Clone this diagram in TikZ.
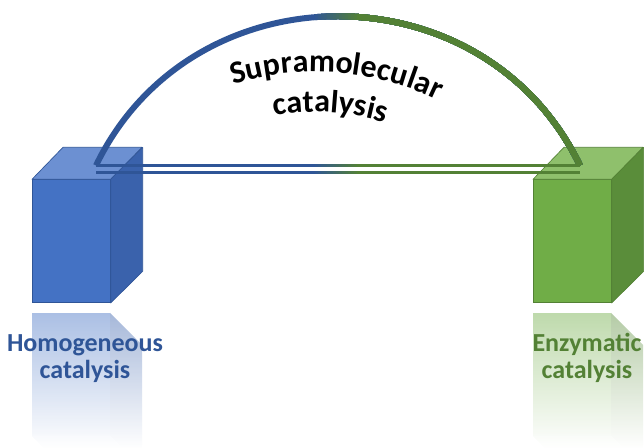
\documentclass[tikz,border=0pt]{standalone}
\usepackage{fontspec}
\setmainfont{Carlito}
\usetikzlibrary{positioning,decorations.text,fadings}

\definecolor{homfront}{HTML}{4472C4}
\definecolor{homtop}{HTML}{6C90D2}
\definecolor{homside}{HTML}{3A62AC}
\definecolor{homedge}{HTML}{2F5597}
\definecolor{enzfront}{HTML}{70AD47}
\definecolor{enztop}{HTML}{8FC06C}
\definecolor{enzside}{HTML}{5A8D3A}
\definecolor{enzedge}{HTML}{538135}

\tikzfading[name=mirrorfade, top color=transparent!45, bottom color=transparent!0]

\newcommand{\archfont}{\bfseries\fontsize{24}{28}\selectfont}

\tikzset{
  frontface/.style={rectangle, draw=#1, line width=0.5pt, inner sep=0pt,
    minimum width=58.5pt, minimum height=92.25pt, anchor=south west},
  face/.style={draw=#1, line width=0.5pt, line join=round},
  boxlabel/.style={text=#1, font=\bfseries\fontsize{19.5}{20.25}\selectfont,
    align=center, anchor=base, inner sep=0pt},
  arch/.style={draw=#1, line width=4.5pt},
  rail/.style={draw=#1, line width=2.25pt},
}

\begin{document}
\begin{tikzpicture}[x=0.75pt, y=0.75pt]
\useasboundingbox (0,0) rectangle (644,448);

% mirrored boxes
\fill[homfront] (32,12) rectangle (110,135);
\fill[homside] (110,135) -- (142,103) -- (142,-20) -- (110,12) -- cycle;
\fill[homtop] (32,12) -- (110,12) -- (142,-20) -- (63,-20) -- cycle;
\fill[enzfront] (533,12) rectangle (611,135);
\fill[enzside] (611,135) -- (643,103) -- (643,-20) -- (611,12) -- cycle;
\fill[enztop] (533,12) -- (611,12) -- (643,-20) -- (564,-20) -- cycle;
\fill[white, path fading=mirrorfade] (20,135) rectangle (644,0);

% boxes
\node[frontface=homedge, fill=homfront] (hom) at (32,145) {};
\filldraw[face=homedge, fill=homtop] (hom.north west) -- ++(31,32) -- ++(79,0) -- (hom.north east) -- cycle;
\filldraw[face=homedge, fill=homside] (hom.north east) -- ++(32,32) -- ++(0,-124) -- (hom.south east) -- cycle;

\node[frontface=enzedge, fill=enzfront] (enz) at (533,145) {};
\filldraw[face=enzedge, fill=enztop] (enz.north west) -- ++(31,32) -- ++(79,0) -- (enz.north east) -- cycle;
\filldraw[face=enzedge, fill=enzside] (enz.north east) -- ++(32,32) -- ++(0,-124) -- (enz.south east) -- cycle;

% labels
\node[boxlabel=homedge] (hom-label) at (85,69) {Homogeneous\\catalysis};
\node[boxlabel=enzedge] (enz-label) at (587,69) {Enzymatic\\catalysis};

% arch and rails
\coordinate (hom-arch) at (96,282.5);
\coordinate (hom-rail) at (96,275.5);
\coordinate (enz-arch) at (580,282.5);
\coordinate (enz-rail) at (580,275.5);

\draw[arch=homedge] (hom-arch) .. controls +(96,199) and +(-96,199) .. (enz-arch);
\draw[rail=homedge] (hom-arch) -- (enz-arch);
\draw[rail=homedge] (hom-rail) -- (enz-rail);
\foreach \k in {1,...,15} {
  \pgfmathtruncatemacro\p{\k*100/15}
  \begin{scope}
    \clip (312+3*\k,0) rectangle (644,448);
    \draw[arch=enzedge!\p!homedge] (hom-arch) .. controls +(96,199) and +(-96,199) .. (enz-arch);
    \draw[rail=enzedge!\p!homedge] (hom-arch) -- (enz-arch);
    \draw[rail=enzedge!\p!homedge] (hom-rail) -- (enz-rail);
  \end{scope}
}

% curved title
\path[decorate, decoration={text along path, text align=center,
  text={|\archfont|Supramolecular}}]
  (315,97) ++(113.5:279) arc[start angle=113.5, end angle=57.5, radius=279];
\path[decorate, decoration={text along path, text align=center,
  text={|\archfont|catalysis}}]
  (315,97) ++(116.4:239) arc[start angle=116.4, end angle=56.4, radius=239];
\end{tikzpicture}
\end{document}
